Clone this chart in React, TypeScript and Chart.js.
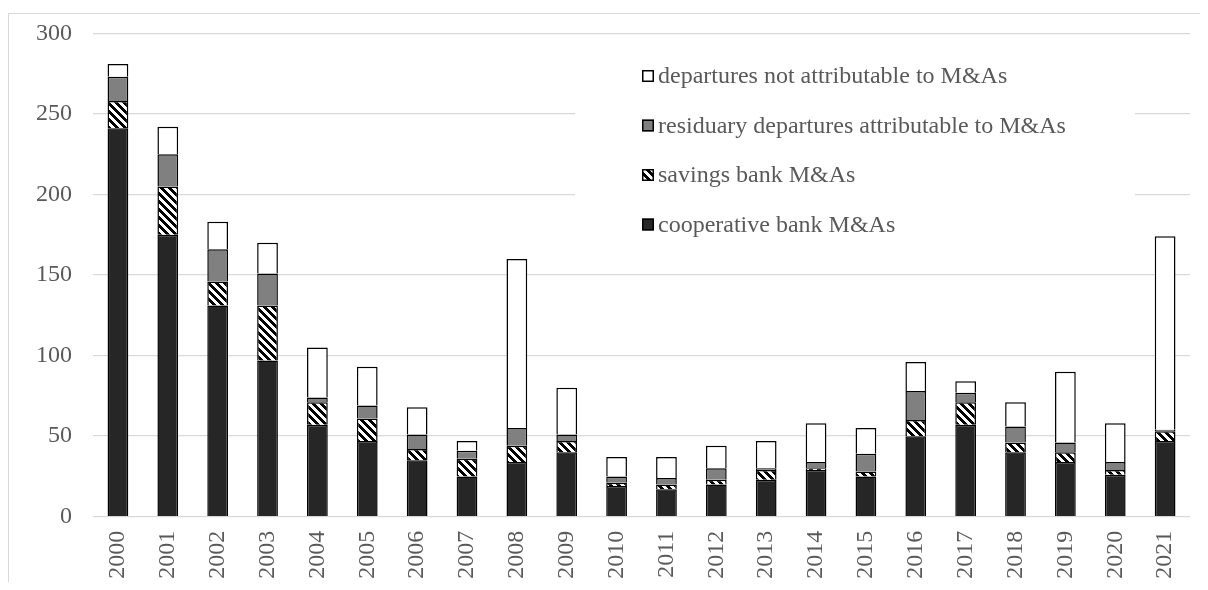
import React, { useEffect, useRef } from 'react';
import { Chart, registerables } from 'chart.js';

Chart.register(...registerables);

const years = ['2000', '2001', '2002', '2003', '2004', '2005', '2006', '2007', '2008', '2009', '2010', '2011', '2012', '2013', '2014', '2015', '2016', '2017', '2018', '2019', '2020', '2021'];
const cooperativeBank = [241, 175, 131, 97, 57, 47, 35, 25, 34, 40, 19, 17, 20, 23, 29, 25, 50, 57, 40, 34, 26, 47];
const savingsBank = [17, 30, 15, 34, 14, 14, 7, 11, 10, 7, 2, 3, 3, 6, 1, 3, 10, 14, 6, 6, 3, 6];
const residuary = [15, 20, 20, 20, 3, 8, 9, 5, 11, 4, 4, 4, 7, 1, 4, 11, 18, 6, 10, 6, 5, 1];
const notAttributable = [8, 17, 17, 19, 31, 24, 17, 6, 105, 29, 12, 13, 14, 17, 24, 16, 18, 7, 15, 44, 24, 120];
const seriesLabels = [
  'cooperative bank M&As',
  'savings bank M&As',
  'residuary departures attributable to M&As',
  'departures not attributable to M&As',
];
const yTicks = [0, 50, 100, 150, 200, 250, 300];

const FONT = '"Liberation Serif", "Times New Roman", serif';
const TEXT = '#595959';
const GRID = '#d9d9d9';

function makeHatch(): CanvasPattern | string {
  const c = document.createElement('canvas');
  c.width = 8;
  c.height = 8;
  const ctx = c.getContext('2d');
  if (!ctx) return '#555';
  ctx.fillStyle = '#000';
  ctx.fillRect(0, 0, 8, 8);
  ctx.fillStyle = '#fff';
  for (let y = 0; y < 8; y++) {
    for (let x = 0; x < 8; x++) {
      if ((((x - y) % 8) + 8) % 8 < 4) ctx.fillRect(x, y, 1, 1);
    }
  }
  return ctx.createPattern(c, 'repeat') || '#555';
}

const boxLegend = {
  id: 'boxLegend',
  beforeDatasetsDraw(chart: any) {
    const ctx = chart.ctx;
    ctx.save();
    ctx.fillStyle = '#fff';
    ctx.fillRect(567, 42, 560, 200);
    ctx.restore();
  },
  afterDatasetsDraw(chart: any) {
    const ctx = chart.ctx;
    ctx.save();
    const order = [3, 2, 1, 0];
    order.forEach((di, i) => {
      const ds = chart.data.datasets[di];
      const cy = 68 + i * 49.5;
      ctx.fillStyle = ds.backgroundColor;
      ctx.fillRect(634, cy - 6, 12, 12);
      ctx.strokeStyle = '#000';
      ctx.lineWidth = 1.5;
      ctx.strokeRect(634.75, cy - 5.25, 10.5, 10.5);
      ctx.fillStyle = TEXT;
      ctx.font = '24px ' + FONT;
      ctx.textBaseline = 'middle';
      ctx.textAlign = 'left';
      ctx.fillText(ds.label, 650, cy + 1);
    });
    ctx.restore();
  },
};

export default function App() {
  const ref = useRef<HTMLCanvasElement>(null);

  useEffect(() => {
    if (!ref.current) return;
    const hatch = makeHatch();
    const common = { borderColor: '#000', borderWidth: 1.5, barPercentage: 0.416, categoryPercentage: 1 };
    const chart = new Chart(ref.current, {
      type: 'bar',
      data: {
        labels: years,
        datasets: [
          { label: seriesLabels[0], data: cooperativeBank, backgroundColor: '#262626', ...common },
          { label: seriesLabels[1], data: savingsBank, backgroundColor: hatch as any, ...common },
          { label: seriesLabels[2], data: residuary, backgroundColor: '#808080', ...common },
          { label: seriesLabels[3], data: notAttributable, backgroundColor: '#ffffff', ...common },
        ],
      },
      options: {
        animation: false,
        responsive: false,
        maintainAspectRatio: false,
        layout: { padding: { top: 25.3, right: 4, left: 0, bottom: 0 } },
        plugins: {
          legend: { display: false },
          tooltip: { enabled: false },
          title: { display: false },
        },
        scales: {
          x: {
            stacked: true,
            grid: { display: false, drawTicks: false },
            border: { display: false },
            ticks: {
              color: TEXT,
              font: { family: FONT, size: 24 },
              minRotation: 90,
              maxRotation: 90,
              autoSkip: false,
              padding: 14,
            },
            afterFit: (scale: any) => {
              scale.height = 65.3;
            },
          },
          y: {
            stacked: true,
            min: 0,
            max: 300,
            afterBuildTicks: (scale: any) => {
              scale.ticks = yTicks.map((v) => ({ value: v }));
            },
            grid: {
              color: GRID,
              lineWidth: 1.3,
              drawTicks: true,
              tickLength: 20,
              tickColor: 'rgba(0,0,0,0)',
            },
            border: { display: false },
            ticks: {
              color: TEXT,
              font: { family: FONT, size: 24 },
              padding: 1,
            },
            afterFit: (scale: any) => {
              scale.width = 85;
            },
          },
        },
      },
      plugins: [boxLegend],
    });
    return () => chart.destroy();
  }, []);

  return (
    <div style={{ position: 'relative', width: 1200, height: 574 }}>
      <canvas ref={ref} width={1200} height={574} style={{ display: 'block', width: 1200, height: 574 }} />
      <div
        style={{
          position: 'absolute',
          left: 0,
          top: 5,
          width: 1199,
          height: 568,
          borderTop: '1px solid ' + GRID,
          borderLeft: '1px solid ' + GRID,
          pointerEvents: 'none',
        }}
      />
    </div>
  );
}
